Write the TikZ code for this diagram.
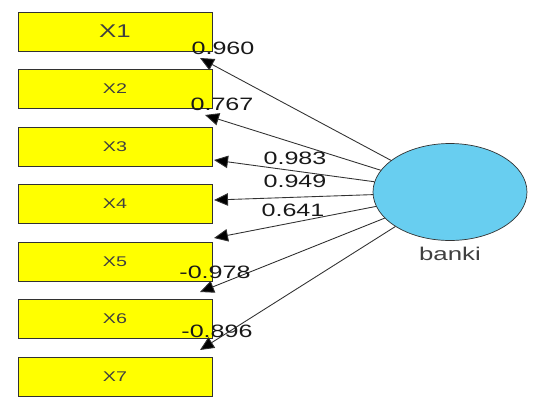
\documentclass[tikz,border=0pt]{standalone}
\usepackage{fontspec}
\setmainfont{Liberation Sans}
\newfontfamily\widefont[FakeStretch=1.4]{Liberation Sans}
\usetikzlibrary{arrows.meta, shapes.geometric}

\definecolor{boxyellow}{RGB}{255,255,0}
\definecolor{latentblue}{RGB}{104,206,240}
\definecolor{edgegray}{RGB}{50,50,50}

\begin{document}
\begin{tikzpicture}[
  x=0.02cm, y=-0.02cm,
  ind/.style = {draw=edgegray, fill=boxyellow, minimum width=3.88cm,
                minimum height=0.78cm, inner sep=0pt, text=black!75,
                font=\widefont\fontsize{8}{9}\selectfont},
  lat/.style = {draw=black!80, fill=latentblue, ellipse, minimum width=3.08cm,
                minimum height=1.94cm, inner sep=0pt},
  lbl/.style = {font=\widefont\fontsize{10.2}{11}\selectfont, text=black!90,
                inner sep=0pt},
  arr/.style = {-{Triangle[length=0.28cm, width=0.25cm, fill=black]},
                draw=edgegray, line width=0.5pt}
]
  \useasboundingbox (0,0) rectangle (542,403);

  % Indicators
  \node[ind, font=\widefont\fontsize{10.5}{12}\selectfont] (x1) at (115,31.5) {X1};
  \node[ind] (x2) at (115,89)    {X2};
  \node[ind] (x3) at (115,146.5) {X3};
  \node[ind] (x4) at (115,204)   {X4};
  \node[ind] (x5) at (115,261.5) {X5};
  \node[ind] (x6) at (115,319)   {X6};
  \node[ind] (x7) at (115,376.5) {X7};

  % Latent variable
  \node[lat] (banki) at (450,192) {};
  \node[lbl, text=black!75, font=\widefont\fontsize{10.5}{12}\selectfont]
      (bankilbl) at (450,254) {banki};

  % Arrow tips
  \coordinate (t1) at (200,58);
  \coordinate (t2) at (205,115);
  \coordinate (t3) at (214,160);
  \coordinate (t4) at (214,200);
  \coordinate (t5) at (214,238);
  \coordinate (t6) at (200,292);
  \coordinate (t7) at (200,350);

  % Loadings
  \draw[arr] (banki) -- (t1);
  \draw[arr] (banki) -- (t2);
  \draw[arr] (banki) -- (t3);
  \draw[arr] (banki) -- (t4);
  \draw[arr] (banki) -- (t5);
  \draw[arr] (banki) -- (t6);
  \draw[arr] (banki) -- (t7);

  \node[lbl] (l1) at (223,48)  {0.960};
  \node[lbl] (l2) at (222,104) {0.767};
  \node[lbl] (l3) at (295,158) {0.983};
  \node[lbl] (l4) at (295,181) {0.949};
  \node[lbl] (l5) at (293,210) {0.641};
  \node[lbl] (l6) at (215,272) {-0.978};
  \node[lbl] (l7) at (217,331) {-0.896};

\end{tikzpicture}
\end{document}
